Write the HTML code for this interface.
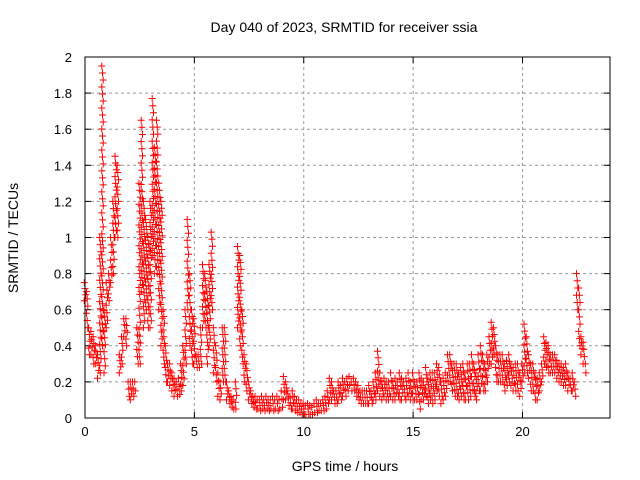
<!DOCTYPE html>
<html><head><meta charset="utf-8"><style>
html,body{margin:0;padding:0;background:#fff}
svg{display:block;font-family:"Liberation Sans",sans-serif}
</style></head><body>
<svg id="chart" width="640" height="480">
<text x="344" y="32" font-size="14" text-anchor="middle">Day 040 of 2023, SRMTID for receiver ssia</text>
<text x="345" y="471" font-size="14" text-anchor="middle">GPS time / hours</text>
<text transform="translate(18,238) rotate(-90)" font-size="14" text-anchor="middle">SRMTID / TECUs</text>
<g id="grid"></g>
<g id="ticks"></g>
<g id="marks"></g>
<rect x="85" y="57" width="525" height="361" fill="none" stroke="#000" stroke-width="1"/>
</svg>
<script>
const xTicks=[0,5,10,15,20];
const yTicks=[0,0.2,0.4,0.6,0.8,1,1.2,1.4,1.6,1.8,2];
const yTickLabels=["0","0.2","0.4","0.6","0.8","1","1.2","1.4","1.6","1.8","2"];
const tStart=0, tStep=0.1;
const hiVals=[
0.75,0.7,0.5,0.48,0.45,0.4,0.35,1.0,1.95,0.6,
0.75,0.8,1.0,1.2,1.45,1.4,0.35,0.45,0.55,0.55,
0.2,0.2,0.2,0.2,0.5,1.3,1.65,1.2,1.1,1.0,
1.2,1.77,1.5,1.65,1.3,1.2,0.6,0.4,0.3,0.3,
0.25,0.22,0.2,0.22,0.3,0.4,0.6,1.1,0.8,0.6,
0.55,0.35,0.35,0.5,0.85,0.8,0.7,0.85,1.03,0.5,
0.4,0.25,0.2,0.5,0.5,0.2,0.15,0.12,0.1,0.2,
0.95,0.9,0.6,0.35,0.3,0.2,0.15,0.12,0.12,0.1,
0.1,0.12,0.1,0.12,0.1,0.1,0.12,0.1,0.12,0.1,
0.15,0.23,0.2,0.15,0.12,0.15,0.12,0.1,0.1,0.08,
0.08,0.07,0.08,0.07,0.06,0.08,0.1,0.08,0.08,0.1,
0.12,0.15,0.22,0.2,0.15,0.15,0.2,0.18,0.22,0.2,
0.22,0.23,0.2,0.22,0.2,0.18,0.15,0.15,0.15,0.15,
0.18,0.15,0.2,0.25,0.37,0.25,0.2,0.22,0.2,0.2,
0.25,0.2,0.22,0.2,0.25,0.22,0.2,0.22,0.25,0.2,
0.25,0.2,0.2,0.25,0.22,0.2,0.28,0.22,0.25,0.25,
0.25,0.3,0.28,0.2,0.22,0.25,0.35,0.35,0.3,0.3,
0.3,0.25,0.28,0.3,0.25,0.3,0.3,0.35,0.3,0.25,
0.35,0.4,0.35,0.3,0.35,0.45,0.53,0.5,0.4,0.35,
0.35,0.35,0.3,0.32,0.35,0.3,0.28,0.3,0.3,0.25,
0.3,0.52,0.45,0.35,0.3,0.3,0.25,0.22,0.25,0.3,
0.45,0.42,0.4,0.35,0.35,0.35,0.32,0.3,0.3,0.28,
0.3,0.25,0.22,0.25,0.2,0.8,0.72,0.45,0.42,0.3];
const loVals=[
0.65,0.5,0.35,0.35,0.3,0.3,0.22,0.25,0.4,0.25,
0.5,0.65,0.75,0.8,1.0,1.0,0.25,0.3,0.45,0.4,
0.12,0.1,0.12,0.15,0.3,0.3,0.7,0.5,0.6,0.5,
0.5,0.9,0.8,0.8,0.6,0.4,0.3,0.2,0.2,0.18,
0.15,0.12,0.12,0.13,0.15,0.18,0.3,0.6,0.4,0.3,
0.3,0.28,0.28,0.3,0.5,0.5,0.3,0.4,0.6,0.25,
0.2,0.12,0.1,0.2,0.2,0.1,0.08,0.06,0.05,0.05,
0.5,0.4,0.3,0.2,0.15,0.1,0.08,0.06,0.05,0.05,
0.04,0.05,0.04,0.05,0.04,0.05,0.04,0.05,0.04,0.05,
0.06,0.1,0.1,0.07,0.05,0.05,0.04,0.03,0.03,0.02,
0.02,0.02,0.02,0.02,0.02,0.03,0.03,0.04,0.04,0.04,
0.05,0.08,0.1,0.1,0.08,0.08,0.1,0.1,0.12,0.12,
0.15,0.18,0.15,0.15,0.12,0.1,0.08,0.08,0.08,0.08,
0.08,0.08,0.1,0.1,0.15,0.12,0.1,0.12,0.1,0.1,
0.12,0.1,0.1,0.12,0.1,0.1,0.12,0.1,0.12,0.1,
0.1,0.1,0.1,0.05,0.1,0.1,0.12,0.08,0.1,0.08,
0.1,0.15,0.12,0.08,0.1,0.12,0.2,0.2,0.15,0.12,
0.12,0.1,0.12,0.1,0.1,0.1,0.12,0.15,0.12,0.1,
0.15,0.15,0.15,0.15,0.2,0.3,0.3,0.35,0.2,0.2,
0.2,0.2,0.15,0.18,0.2,0.18,0.15,0.15,0.15,0.12,
0.2,0.25,0.25,0.22,0.15,0.15,0.1,0.1,0.15,0.2,
0.3,0.28,0.25,0.25,0.25,0.25,0.22,0.2,0.2,0.18,
0.18,0.15,0.15,0.15,0.12,0.6,0.4,0.35,0.3,0.25];

const NS='http://www.w3.org/2000/svg';
const X0=85,X1=610,Y0=418,Y1=57;
function xs(t){return X0+(t-0)/24*(X1-X0);}
function ys(v){return Y0-(v-0)/2*(Y0-Y1);}
function mk(tag,attrs,parent){const e=document.createElementNS(NS,tag);for(const k in attrs)e.setAttribute(k,attrs[k]);parent.appendChild(e);return e;}
const grid=document.getElementById('grid'),ticks=document.getElementById('ticks'),marks=document.getElementById('marks');
xTicks.forEach(t=>{
  const x=xs(t);
  if(t>0){const g=mk('line',{x1:x,x2:x,y1:Y0,y2:Y1,stroke:'#999','stroke-dasharray':'3,3'},grid);
  
  }
  mk('line',{x1:x,x2:x,y1:Y0,y2:Y0-6,stroke:'#000'},ticks);
  mk('line',{x1:x,x2:x,y1:Y1,y2:Y1+6,stroke:'#000'},ticks);
  const l=mk('text',{x:x,y:Y0+18,'font-size':13,'text-anchor':'middle'},ticks);
  l.textContent=String(t);
  
  
});
yTicks.forEach((v,i)=>{
  const y=ys(v);
  if(v>0&&v<2){const g=mk('line',{x1:X0,x2:X1,y1:y,y2:y,stroke:'#999','stroke-dasharray':'3,3'},grid);
  
  }
  mk('line',{x1:X0,x2:X0+6,y1:y,y2:y,stroke:'#000'},ticks);
  mk('line',{x1:X1,x2:X1-6,y1:y,y2:y,stroke:'#000'},ticks);
  const l=mk('text',{x:X0-13,y:y+5,'font-size':13,'text-anchor':'end'},ticks);
  l.textContent=yTickLabels[i];
  
  
});
let d='';
function plus(x,y){d+=`M${(x-3.5).toFixed(1)},${y.toFixed(1)}h7M${x.toFixed(1)},${(y-3.5).toFixed(1)}v7`;}
hiVals.forEach((hi,i)=>{
  const lo=loVals[i];
  const t=tStart+i*tStep;
  const yh=ys(hi),yl=ys(lo);
  const n=Math.max(1,Math.round((yl-yh)/7));
  for(let k=0;k<=n;k++){
    const y=yh+(yl-yh)*k/n;
    const x=xs(t+((k%3)-1)*0.03);
    plus(x,y);
  }
});
const p=mk('path',{d:d,stroke:'#f00','stroke-width':1,fill:'none'},marks);


</script>
</body></html>
